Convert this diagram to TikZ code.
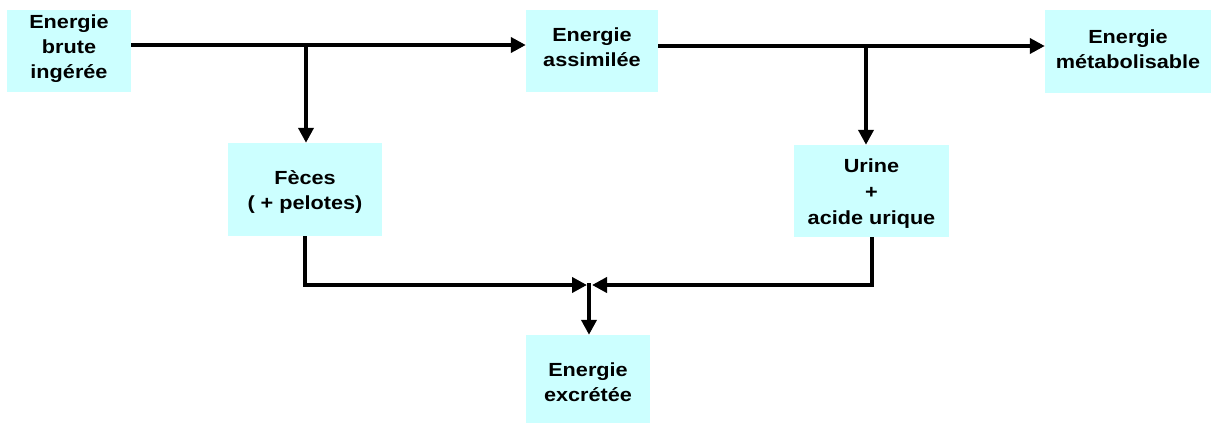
\documentclass[tikz,border=0pt]{standalone}
\usepackage{fontspec}
\setmainfont{Liberation Sans}[FakeStretch=1.14]
\usetikzlibrary{arrows.meta,calc}
\definecolor{boxcyan}{HTML}{CCFFFF}
\tikzset{
  box/.style={fill=boxcyan, draw=none, inner sep=0pt},
  txt/.style={align=center, inner sep=0pt, font=\bfseries\fontsize{19}{25}\selectfont},
  arr/.style={line width=4pt, -{Triangle[length=15pt,width=15pt]}}
}
\begin{document}
\begin{tikzpicture}[x=1pt,y=-1pt]
\useasboundingbox (0,0) rectangle (1211,423);
\node[box, minimum width=124pt, minimum height=82pt] (b1) at (69,51) {};
\node[box, minimum width=132pt, minimum height=82pt] (b2) at (592,51) {};
\node[box, minimum width=166pt, minimum height=83pt] (b3) at (1128,51.5) {};
\node[box, minimum width=154pt, minimum height=93pt] (b4) at (305,189.5) {};
\node[box, minimum width=155pt, minimum height=92pt] (b5) at (871.5,191) {};
\node[box, minimum width=124pt, minimum height=88pt] (b6) at (588,379) {};
\node[txt] (t1) at (69,48.4) {Energie\\brute\\ingérée};
\node[txt] (t2) at (592,47.3) {Energie\\assimilée};
\node[txt] (t3) at (1128,48.9) {Energie\\métabolisable};
\node[txt] (t4) at (305,192.1) {Fèces\\( + pelotes)};
\node[txt, font=\bfseries\fontsize{19}{26}\selectfont] (t5) at (871.5,193.5) {Urine\\+\\acide urique};
\node[txt] (t6) at (588,382.3) {Energie\\excrétée};
\coordinate (j1) at (306,45);
\coordinate (j2) at (866,46);
\coordinate (j3) at (589,285);
\draw[arr] (b1.east |- j1) -- (b2.west |- j1);
\draw[arr] (j1) -- (j1 |- b4.north);
\draw[arr] (b2.east |- j2) -- (b3.west |- j2);
\draw[arr] (j2) -- (j2 |- b5.north);
\draw[arr, shorten >=2pt] (b4.south) |- (j3);
\draw[arr, shorten >=3pt] (b5.south) |- (j3);
\draw[arr] ($(j3)+(0,-2)$) -- (j3 |- b6.north);
\end{tikzpicture}
\end{document}
